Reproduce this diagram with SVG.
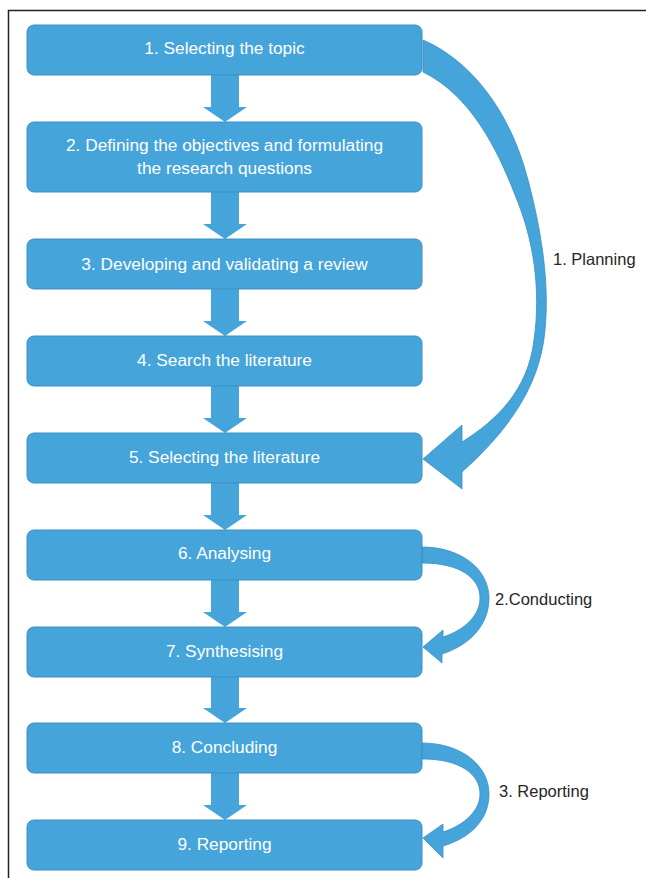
<svg xmlns="http://www.w3.org/2000/svg" width="646" height="878" viewBox="0 0 646 878">
<defs>
<style>
.box{fill:#45a4da;stroke:#3c8fc2;stroke-width:1}
.arr{fill:#45a4da;stroke:#3c8fc2;stroke-width:0.8;stroke-linejoin:miter}
.dn{fill:#45a4da}
.t{font-family:"Liberation Sans",Arial,sans-serif;font-size:17.3px;fill:#ffffff;text-anchor:middle}
.lbl{font-family:"Liberation Sans",Arial,sans-serif;font-size:16.5px;fill:#262626}
</style>
<path id="down" d="M211,0 H239 V32 H247 L225,47 L203,32 H211 Z"/>
</defs>
<rect width="646" height="878" fill="#ffffff"/>
<path d="M8.5,878 V10.5 H646" fill="none" stroke="#222" stroke-width="1.5"/>

<g id="connectors">
<use href="#down" class="dn" transform="translate(0,75)"/>
<use href="#down" class="dn" transform="translate(0,192)"/>
<use href="#down" class="dn" transform="translate(0,289)"/>
<use href="#down" class="dn" transform="translate(0,386)"/>
<use href="#down" class="dn" transform="translate(0,483)"/>
<use href="#down" class="dn" transform="translate(0,580)"/>
<use href="#down" class="dn" transform="translate(0,676)"/>
<use href="#down" class="dn" transform="translate(0,773)"/>
<path class="arr" d="M423,40 C470,60 510,110 528,180 C540,225 550,280 545,330 C541,375 520,420 462,472 L462,489 L423,459 L462,425 L462,442 C497,420 528,390 534,340 C541,290 534,240 515,195 C497,148 470,95 423,72 Z"/>
<path class="arr" d="M422,547 C462,547 489,570 489,598 C489,625 470,645 442,654 L442,663 L423,647 L443,630 L443,637 C465,630 480,615 480,598 C480,578 460,563 422,563 Z"/>
<path class="arr" d="M422,743 C462,743 489,766 489,794 C489,820 470,838 443,846 L443,858 L423,838 L443,824 L443,832 C465,825 480,810 480,794 C480,774 460,759 422,759 Z"/>
</g>

<g id="n1"><rect class="box" x="27" y="25" width="395" height="50" rx="7"/><text class="t" x="224.5" y="54">1. Selecting the topic</text></g>
<g id="n2"><rect class="box" x="27" y="122" width="395" height="70" rx="7"/><text class="t" x="224.5" y="151">2. Defining the objectives and formulating</text><text class="t" x="224.5" y="174">the research questions</text></g>
<g id="n3"><rect class="box" x="27" y="239" width="395" height="50" rx="7"/><text class="t" x="224.5" y="270">3. Developing and validating a review</text></g>
<g id="n4"><rect class="box" x="27" y="336" width="395" height="50" rx="7"/><text class="t" x="224.5" y="366">4. Search the literature</text></g>
<g id="n5"><rect class="box" x="27" y="433" width="395" height="50" rx="7"/><text class="t" x="224.5" y="463">5. Selecting the literature</text></g>
<g id="n6"><rect class="box" x="27" y="530" width="395" height="50" rx="7"/><text class="t" x="224.5" y="559">6. Analysing</text></g>
<g id="n7"><rect class="box" x="27" y="627" width="395" height="50" rx="7"/><text class="t" x="224.5" y="657">7. Synthesising</text></g>
<g id="n8"><rect class="box" x="27" y="723" width="395" height="50" rx="7"/><text class="t" x="224.5" y="753">8. Concluding</text></g>
<g id="n9"><rect class="box" x="27" y="820" width="395" height="50" rx="7"/><text class="t" x="224.5" y="850">9. Reporting</text></g>

<g id="labels">
<text class="lbl" x="553" y="265">1. Planning</text>
<text class="lbl" x="495" y="605">2.Conducting</text>
<text class="lbl" x="499" y="797">3. Reporting</text>
</g>
</svg>
